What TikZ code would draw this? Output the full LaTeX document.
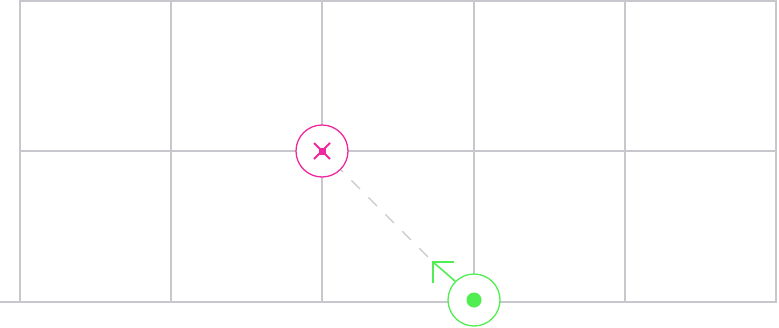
\documentclass[tikz,border=0pt]{standalone}
\usepackage{tikz}
\usetikzlibrary{calc}
\definecolor{gridc}{RGB}{200,199,205}
\definecolor{pinkc}{RGB}{240,40,160}
\definecolor{greenc}{RGB}{80,238,80}
\tikzset{
  gridline/.style={draw=gridc, line width=1.6pt},
  pinkring/.style={circle, draw=pinkc, line width=1.3pt, fill=white, minimum size=52pt, inner sep=0pt},
  greenring/.style={circle, draw=greenc, line width=1.3pt, fill=white, minimum size=52pt, inner sep=0pt},
  guide/.style={draw=gridc, line width=1.3pt, dash pattern=on 12pt off 12pt, dash phase=9pt},
  arrowline/.style={draw=greenc, line width=1.6pt}
}
\begin{document}
\begin{tikzpicture}[x=1pt,y=-1pt]
\useasboundingbox (0,0) rectangle (779,327);
% grid
\foreach \xx in {20,171,322,474,625,776} {
  \draw[gridline] (\xx,0) -- (\xx,302);
}
\draw[gridline] (20,0.8) -- (776,0.8);
\draw[gridline] (20,151) -- (776,151);
\draw[gridline] (0,302) -- (777,302);
% nodes
\node[pinkring] (p) at (322,151) {};
\node[greenring] (g) at (474,300) {};
\fill[greenc] (g.center) circle (7.5pt);
\draw[pinkc, line width=1.8pt] ($(p.center)+(-8,-8)$) -- ($(p.center)+(8,8)$);
\draw[pinkc, line width=1.8pt] ($(p.center)+(-8,8)$) -- ($(p.center)+(8,-8)$);
\fill[pinkc] ($(p.center)+(-3.5,-3.5)$) rectangle ($(p.center)+(3.5,3.5)$);
% arrow
\coordinate (tip) at (433,262);
\coordinate (dend) at (429,258);
\draw[guide] (p.-45) -- (dend);
\draw[arrowline] (g.135) -- (tip);
\draw[arrowline] ($(tip)+(21,0)$) -- (tip) -- ($(tip)+(0,21)$);
\end{tikzpicture}
\end{document}
